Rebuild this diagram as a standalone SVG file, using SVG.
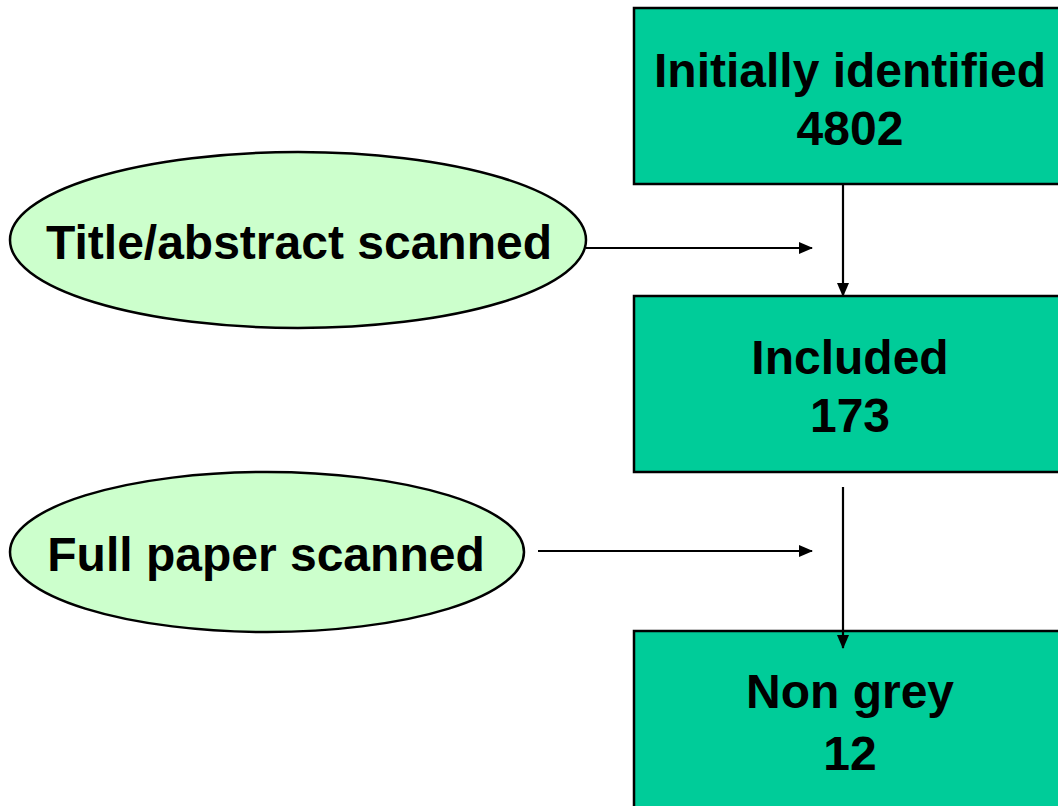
<svg xmlns="http://www.w3.org/2000/svg" width="1058" height="806" viewBox="0 0 1058 806">
<defs>
<marker id="ah" markerWidth="14" markerHeight="12" refX="13" refY="6" orient="auto" markerUnits="userSpaceOnUse">
<path d="M0,0 L14,6 L0,12 Z" fill="#000"/>
</marker>
<style>
.box{fill:#00CC99;stroke:#000;stroke-width:2.5}
.ell{fill:#CCFFCC;stroke:#000;stroke-width:2.5}
.t{font-family:"Liberation Sans",Arial,sans-serif;font-weight:bold;font-size:48px;fill:#000;text-anchor:middle}
.c{stroke:#000;stroke-width:2.2;fill:none;marker-end:url(#ah)}
</style>
</defs>
<rect width="1058" height="806" fill="#fff"/>
<g id="initially">
<rect class="box" x="634" y="8" width="440" height="176"/>
<text class="t" x="850" y="87">Initially identified</text>
<text class="t" x="850" y="145">4802</text>
</g>
<g id="included">
<rect class="box" x="634" y="296" width="440" height="176"/>
<text class="t" x="850" y="374">Included</text>
<text class="t" x="850" y="432">173</text>
</g>
<g id="nongrey">
<rect class="box" x="634" y="631" width="440" height="190"/>
<text class="t" x="850" y="708">Non grey</text>
<text class="t" x="850" y="770">12</text>
</g>
<g id="title-abstract">
<ellipse class="ell" cx="298" cy="240" rx="288" ry="88"/>
<text class="t" x="299" y="259">Title/abstract scanned</text>
</g>
<g id="full-paper">
<ellipse class="ell" cx="267" cy="552" rx="257" ry="80"/>
<text class="t" x="266" y="571">Full paper scanned</text>
</g>
<g id="connectors">
<line class="c" x1="586" y1="248" x2="812" y2="248"/>
<line class="c" x1="843" y1="184" x2="843" y2="296"/>
<line class="c" x1="538" y1="551" x2="812" y2="551"/>
<line class="c" x1="843" y1="487" x2="843" y2="648"/>
</g>
</svg>
